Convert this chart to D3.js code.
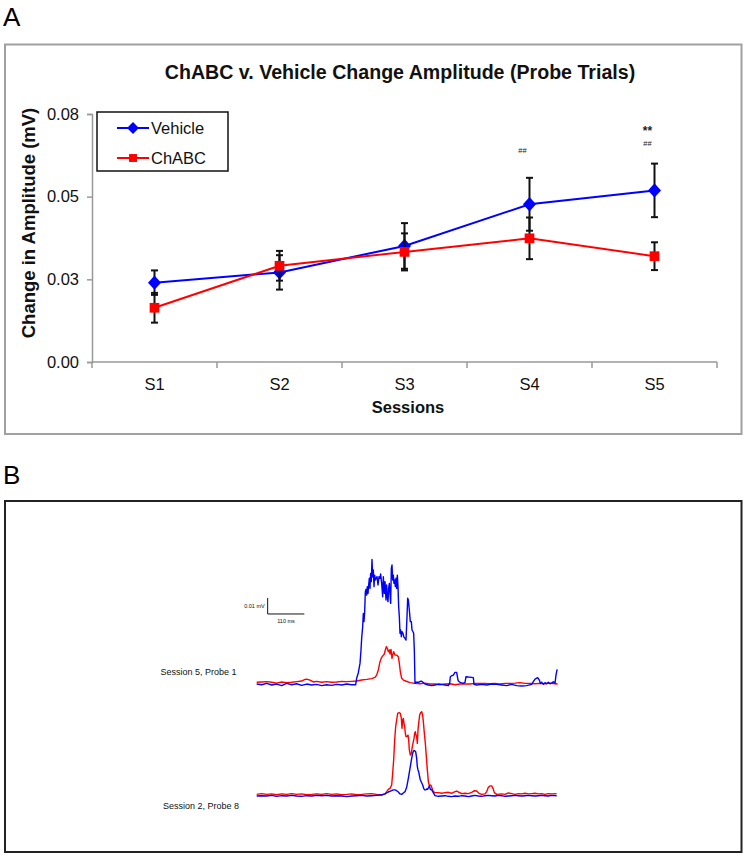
<!DOCTYPE html>
<html>
<head>
<meta charset="utf-8">
<script src="https://cdn.jsdelivr.net/npm/d3@7"></script>
<style>
  html, body { margin: 0; padding: 0; background: #fff; }
  svg { display: block; font-family: "Liberation Sans", Arial, Helvetica, sans-serif; }
</style>
</head>
<body>
<svg id="chart" width="745" height="857"></svg>
<script>
// ---------------- Panel A data ----------------
const sessions = ["S1", "S2", "S3", "S4", "S5"];
const vehicleMean = [0.0240, 0.0271, 0.0351, 0.0477, 0.0519];
const vehicleErr  = [0.0037, 0.0052, 0.0069, 0.0080, 0.0081];
const chabcMean   = [0.0164, 0.0291, 0.0333, 0.0374, 0.0320];
const chabcErr    = [0.0045, 0.0045, 0.0056, 0.0063, 0.0042];
const yTickValues = [0, 0.025, 0.05, 0.075];
const yTickLabels = ["0.00", "0.03", "0.05", "0.08"];
const annotSession = ["S4", "S5", "S5"];
const annotText    = ["##", "**", "##"];
const annotValue   = [0.0640, 0.0702, 0.0661];

// ---------------- Panel B data (time in ms, amplitude in µV) ----------------
const s5Vehicle = [[5,0.4],[20,0],[35,0.8],[50,-0.2],[65,0.4],[80,-0.6],[95,0.8],[110,0],[125,0.6],[140,-0.4],[155,0.4],[170,-0.2],[185,0.2],[200,-0.6],[215,0],[230,-0.4],[245,0.2],[260,-0.2],[275,0.4],[290,0],[302,0],[305,4.0],[310,7.5],[315,13.3],[318,21.7],[320,29.0],[323,36.3],[325,44.6],[327,39.4],[329,45.6],[331,58.1],[333,59.6],[335,56.0],[337,61.3],[339,57.1],[341,62.3],[343,66.5],[345,60.2],[347,69.6],[349,64.4],[351,78.3],[353,67.5],[355,71.7],[357,61.3],[359,68.5],[361,65.4],[363,66.5],[366,67.5],[369,62.3],[372,67.5],[375,66.5],[377,69.2],[380,63.3],[383,55.0],[385,67.5],[388,57.1],[390,64.4],[393,52.9],[395,62.3],[397,55.0],[399,51.9],[401,60.2],[403,63.3],[405,57.1],[407,50.8],[409,72.7],[411,74.8],[413,65.4],[415,68.5],[417,63.3],[419,65.4],[421,61.3],[423,66.5],[425,60.2],[427,68.5],[429,61.3],[431,48.8],[433,42.5],[435,32.1],[437,34.2],[439,30.0],[441,33.1],[444,32.1],[447,29.6],[450,29.0],[453,27.9],[456,42.5],[458,54.0],[460,52.9],[463,46.7],[466,39.4],[469,39.4],[471,34.2],[474,33.1],[476,32.1],[478,21.7],[480,0.8],[482,1.5],[490,1.5],[498,2.3],[502,1.9],[510,0.4],[520,-0.2],[530,-0.6],[540,-0.2],[550,0.4],[560,0.2],[570,-0.2],[580,-0.6],[584,0.8],[586,5.0],[590,5.6],[595,6.0],[600,7.7],[605,7.7],[608,4.0],[610,2.3],[615,1.5],[625,0.8],[630,1.5],[633,5.0],[640,4.8],[650,4.6],[655,4.4],[657,0.2],[665,-0.2],[680,0.2],[695,-0.2],[710,0.4],[725,0.2],[740,-0.2],[755,-0.6],[770,0.2],[785,-0.6],[800,-0.8],[815,-0.6],[830,0.2],[835,1.9],[840,3.5],[848,4.4],[853,2.9],[856,0.8],[860,1.5],[865,0.2],[870,1.3],[875,0.6],[880,1.5],[885,0.6],[890,1.0],[895,1.9],[900,1.0],[903,6.0],[906,9.2],[908,9.2]];
const s5Chabc = [[5,1.5],[20,1.7],[35,1.9],[50,1.5],[65,1.0],[80,1.7],[95,1.3],[110,1.5],[125,1.9],[140,2.3],[150,3.3],[155,3.5],[165,2.9],[175,1.7],[185,2.1],[200,1.5],[215,1.9],[230,1.5],[245,1.7],[260,2.1],[275,1.9],[290,2.1],[305,2.3],[320,2.9],[335,3.3],[350,3.8],[360,4.6],[365,6.0],[370,9.2],[375,14.4],[380,17.1],[385,18.5],[388,19.2],[391,21.7],[394,23.8],[397,22.7],[400,20.6],[403,21.7],[405,19.2],[408,22.1],[411,16.5],[413,18.5],[416,20.6],[420,18.5],[425,18.5],[430,17.5],[433,13.3],[436,8.1],[440,4.0],[445,2.9],[452,2.3],[465,1.3],[480,0.8],[495,0.6],[510,1.0],[525,0.4],[540,0.4],[555,0],[570,0.4],[585,0.6],[600,0],[615,0.4],[630,0.4],[645,0.4],[660,0.8],[675,0.8],[690,0.8],[705,0.6],[720,0.8],[735,0.4],[750,0.8],[765,0.8],[780,1.0],[795,1.3],[810,0.8],[825,0.8],[840,0.6],[855,0.8],[870,0.6],[885,1.0],[900,0.6],[908,0.4]];
const s2Chabc = [[5,1.0],[20,1.5],[35,1.0],[50,1.3],[65,0.8],[80,1.3],[95,1.0],[110,1.5],[125,1.0],[140,1.3],[155,0.8],[170,1.0],[185,1.3],[200,1.0],[215,1.5],[230,1.0],[245,1.3],[260,0.8],[275,1.0],[290,1.3],[305,0.8],[320,1.0],[335,1.3],[350,1.5],[365,1.0],[380,0.8],[390,1.3],[395,2.7],[400,4.2],[405,4.8],[410,6.9],[413,14.2],[416,22.5],[419,35.0],[422,43.3],[425,47.5],[428,51.7],[432,52.1],[436,51.7],[439,48.5],[441,42.3],[443,47.5],[445,48.5],[447,45.4],[449,43.3],[451,39.2],[453,37.1],[456,37.1],[459,38.1],[461,35.0],[463,28.8],[466,25.6],[469,26.7],[472,30.8],[475,34.0],[477,36.0],[479,39.2],[481,40.2],[483,38.1],[485,37.1],[487,32.9],[489,41.3],[491,45.4],[494,50.6],[497,52.1],[500,52.7],[503,50.6],[505,46.5],[508,39.2],[511,32.9],[514,24.6],[517,16.3],[520,9.0],[523,6.3],[526,6.9],[529,6.3],[531,4.8],[535,2.7],[540,2.1],[550,2.1],[560,1.7],[570,2.1],[580,2.3],[590,1.7],[600,2.7],[605,3.1],[610,2.5],[620,1.5],[630,1.7],[640,1.5],[650,2.3],[658,3.3],[665,3.1],[672,1.7],[680,1.0],[690,1.3],[695,2.7],[700,5.4],[705,6.3],[710,6.3],[714,4.8],[718,2.1],[725,1.0],[740,1.3],[750,1.0],[760,1.9],[770,1.5],[780,1.0],[790,1.5],[800,1.3],[810,1.7],[820,1.3],[830,1.5],[840,1.7],[850,1.3],[860,1.5],[870,1.0],[880,1.5],[890,1.3],[905,1.5]];
const s2Vehicle = [[5,0],[20,0.2],[35,0],[50,0.4],[65,-0.2],[80,0.2],[95,0],[110,0.4],[125,0],[140,-0.2],[155,0.2],[170,0],[185,0.4],[200,0.2],[215,0.4],[230,0],[245,0.2],[260,0],[275,-0.4],[290,0],[305,0.2],[320,0.4],[335,0],[350,0.2],[365,0.4],[380,0.6],[390,1.3],[400,2.5],[410,3.3],[415,3.8],[420,3.8],[425,3.3],[430,2.5],[435,1.3],[440,1.0],[445,1.9],[450,2.7],[455,5.4],[460,11.0],[465,17.3],[470,23.5],[473,26.7],[476,28.3],[479,28.3],[482,27.7],[485,23.5],[487,18.3],[489,16.3],[491,15.2],[493,13.1],[496,10.0],[500,8.3],[503,6.9],[506,4.8],[509,3.8],[512,3.8],[515,4.4],[518,4.2],[521,5.4],[523,6.3],[526,4.2],[530,3.8],[535,2.1],[540,0.2],[550,-0.2],[560,0],[570,0.2],[580,-0.2],[590,-0.4],[600,0],[610,-0.2],[620,0.2],[630,0],[640,-0.4],[650,0],[660,0.4],[670,0],[680,-0.2],[690,0.2],[700,0.4],[710,0.2],[720,0],[730,0.4],[740,0.2],[750,-0.2],[760,0],[770,0.2],[780,0.4],[790,0.2],[800,0],[810,0.2],[820,0.4],[830,0.2],[840,0],[850,0.2],[860,0.4],[870,0.2],[880,0],[890,0.4],[905,0.2]];
const traceLabels = ["Session 5, Probe 1", "Session 2, Probe 8"];
const scaleBarMs = 110;     // horizontal scale bar
const scaleBarMicroV = 10;  // vertical scale bar (0.01 mV)
const scaleBarLabels = ["0.01 mV", "110 ms"];

// ---------------- Drawing ----------------
const svg = d3.select("#chart");
const BLUE = "#0000ff", RED = "#ff0000";

// Panel labels
svg.append("text").attr("x", 3).attr("y", 26).attr("font-size", 26).attr("font-weight", 300).text("A");
svg.append("text").attr("x", 3).attr("y", 484).attr("font-size", 26).attr("font-weight", 300).text("B");

// Panel A frame
svg.append("rect").attr("x", 5).attr("y", 44.5).attr("width", 736.5).attr("height", 389.5)
  .attr("fill", "none").attr("stroke", "#a0a0a0").attr("stroke-width", 2);

// Title
svg.append("text").attr("x", 400).attr("y", 79).attr("text-anchor", "middle")
  .attr("font-size", 19.6).attr("font-weight", "bold").attr("fill", "#111")
  .text("ChABC v. Vehicle Change Amplitude (Probe Trials)");

const x = d3.scaleBand().domain(sessions).range([92, 717]);
const y = d3.scaleLinear().domain([0, 0.075]).range([362, 114]);
const cx = s => x(s) + x.bandwidth() / 2;

// Y axis
const yAxis = svg.append("g").attr("transform", "translate(92,0)")
  .call(d3.axisLeft(y).tickValues(yTickValues).tickSize(5).tickPadding(8)
    .tickFormat((d, i) => yTickLabels[i]));
yAxis.select(".domain").attr("stroke", "#999").attr("stroke-width", 1.5);
yAxis.selectAll(".tick line").attr("stroke", "#999").attr("stroke-width", 1.5);
yAxis.selectAll(".tick text").attr("font-size", 16.5).attr("fill", "#111")
  .attr("font-family", "'Liberation Sans', Arial, sans-serif");

// X axis (ticks between categories)
const xAxisG = svg.append("g").attr("transform", "translate(0,362)");
xAxisG.append("line").attr("x1", 92).attr("x2", 717).attr("y1", 0).attr("y2", 0)
  .attr("stroke", "#999").attr("stroke-width", 1.5);
const boundaries = sessions.map(s => x(s)).concat([x(sessions[sessions.length - 1]) + x.bandwidth()]);
xAxisG.selectAll("line.tk").data(boundaries).enter().append("line").attr("class", "tk")
  .attr("x1", d => d).attr("x2", d => d).attr("y1", 0).attr("y2", 6)
  .attr("stroke", "#999").attr("stroke-width", 1.5);
xAxisG.selectAll("text").data(sessions).enter().append("text")
  .attr("x", d => cx(d)).attr("y", 28).attr("text-anchor", "middle")
  .attr("font-size", 16.5).attr("fill", "#111").text(d => d);

// Axis titles
svg.append("text").attr("x", 408).attr("y", 413).attr("text-anchor", "middle")
  .attr("font-size", 16.5).attr("font-weight", "bold").attr("fill", "#111").text("Sessions");
svg.append("text").attr("transform", "translate(35,223) rotate(-90)").attr("text-anchor", "middle")
  .attr("font-size", 18.5).attr("font-weight", "bold").attr("fill", "#111").text("Change in Amplitude (mV)");

// Series
function drawSeries(means, errs, color, marker) {
  const pts = sessions.map((s, i) => ({ s, v: means[i], e: errs[i] }));
  svg.append("path").datum(pts)
    .attr("d", d3.line().x(d => cx(d.s)).y(d => y(d.v)))
    .attr("fill", "none").attr("stroke", color).attr("stroke-width", 2);
  const eb = svg.append("g").attr("stroke", "#111").attr("stroke-width", 2);
  pts.forEach(d => {
    eb.append("line").attr("x1", cx(d.s)).attr("x2", cx(d.s)).attr("y1", y(d.v - d.e)).attr("y2", y(d.v + d.e));
    [d.v - d.e, d.v + d.e].forEach(v => eb.append("line")
      .attr("x1", cx(d.s) - 3.5).attr("x2", cx(d.s) + 3.5).attr("y1", y(v)).attr("y2", y(v)));
  });
  const sym = marker === "diamond"
    ? d3.symbol().type(d3.symbolDiamond2).size(120)
    : d3.symbol().type(d3.symbolSquare2).size(120);
  svg.append("g").selectAll("path").data(pts).enter().append("path")
    .attr("d", sym)
    .attr("transform", d => `translate(${cx(d.s)},${y(d.v)})` + (marker === "diamond" ? " scale(0.95,1.05)" : ""))
    .attr("fill", color);
}
drawSeries(vehicleMean, vehicleErr, BLUE, "diamond");
drawSeries(chabcMean, chabcErr, RED, "square");

// Significance annotations
svg.append("g").selectAll("text").data(annotText).enter().append("text")
  .attr("x", (d, i) => cx(annotSession[i]) - 7)
  .attr("y", (d, i) => y(annotValue[i]) + (d === "**" ? 5 : 3))
  .attr("text-anchor", "middle")
  .attr("font-size", d => d === "**" ? 12 : 7.5)
  .attr("font-weight", d => d === "**" ? "bold" : "normal")
  .attr("fill", "#222").text(d => d);

// Legend
const lg = svg.append("g");
lg.append("rect").attr("x", 97).attr("y", 112).attr("width", 131).attr("height", 59)
  .attr("fill", "#fff").attr("stroke", "#111").attr("stroke-width", 1.5);
[["Vehicle", BLUE, "diamond", 128], ["ChABC", RED, "square", 158]].forEach(([name, col, mk, ly]) => {
  lg.append("line").attr("x1", 117).attr("x2", 149).attr("y1", ly).attr("y2", ly)
    .attr("stroke", col).attr("stroke-width", 2);
  lg.append("path").attr("d", d3.symbol().type(mk === "diamond" ? d3.symbolDiamond2 : d3.symbolSquare2).size(mk === "diamond" ? 90 : 80))
    .attr("transform", `translate(133,${ly})`).attr("fill", col);
  lg.append("text").attr("x", 151).attr("y", ly + 6).attr("font-size", 16.5).attr("fill", "#111").text(name);
});

// Panel B frame
svg.append("rect").attr("x", 5).attr("y", 501).attr("width", 736.5).attr("height", 351)
  .attr("fill", "none").attr("stroke", "#222").attr("stroke-width", 2);

const tx = d3.scaleLinear().domain([0, 900]).range([255, 555]);
const y1 = d3.scaleLinear().domain([0, 10]).range([684.7, 668.7]);
const y2 = d3.scaleLinear().domain([0, 10]).range([796, 780]);

function drawTrace(data, ys, color) {
  svg.append("path").datum(data)
    .attr("d", d3.line().x(d => tx(d[0])).y(d => ys(d[1])))
    .attr("fill", "none").attr("stroke", color).attr("stroke-width", 1.4).attr("stroke-linejoin", "round");
}
drawTrace(s5Chabc, y1, RED);
drawTrace(s5Vehicle, y1, BLUE);
drawTrace(s2Chabc, y2, RED);
drawTrace(s2Vehicle, y2, BLUE);

// Trace labels
svg.append("text").attr("x", 160.5).attr("y", 674.5).attr("font-size", 9).attr("fill", "#111").text(traceLabels[0]);
svg.append("text").attr("x", 163).attr("y", 808.5).attr("font-size", 9).attr("fill", "#111").text(traceLabels[1]);

// Scale bar
const sb0 = 38, sbBase = 44.2;
const sb = svg.append("g").attr("stroke", "#111").attr("stroke-width", 1).attr("fill", "none");
sb.append("path").attr("d", `M${tx(sb0)},${y1(sbBase + scaleBarMicroV)} L${tx(sb0)},${y1(sbBase)} L${tx(sb0 + scaleBarMs)},${y1(sbBase)}`);
svg.append("text").attr("x", tx(sb0) - 3).attr("y", y1(sbBase + scaleBarMicroV / 2) + 2)
  .attr("text-anchor", "end").attr("font-size", 5.5).attr("fill", "#111").text(scaleBarLabels[0]);
svg.append("text").attr("x", tx(sb0 + scaleBarMs / 2)).attr("y", y1(sbBase) + 9)
  .attr("text-anchor", "middle").attr("font-size", 5.5).attr("fill", "#111").text(scaleBarLabels[1]);
</script>
</body>
</html>
